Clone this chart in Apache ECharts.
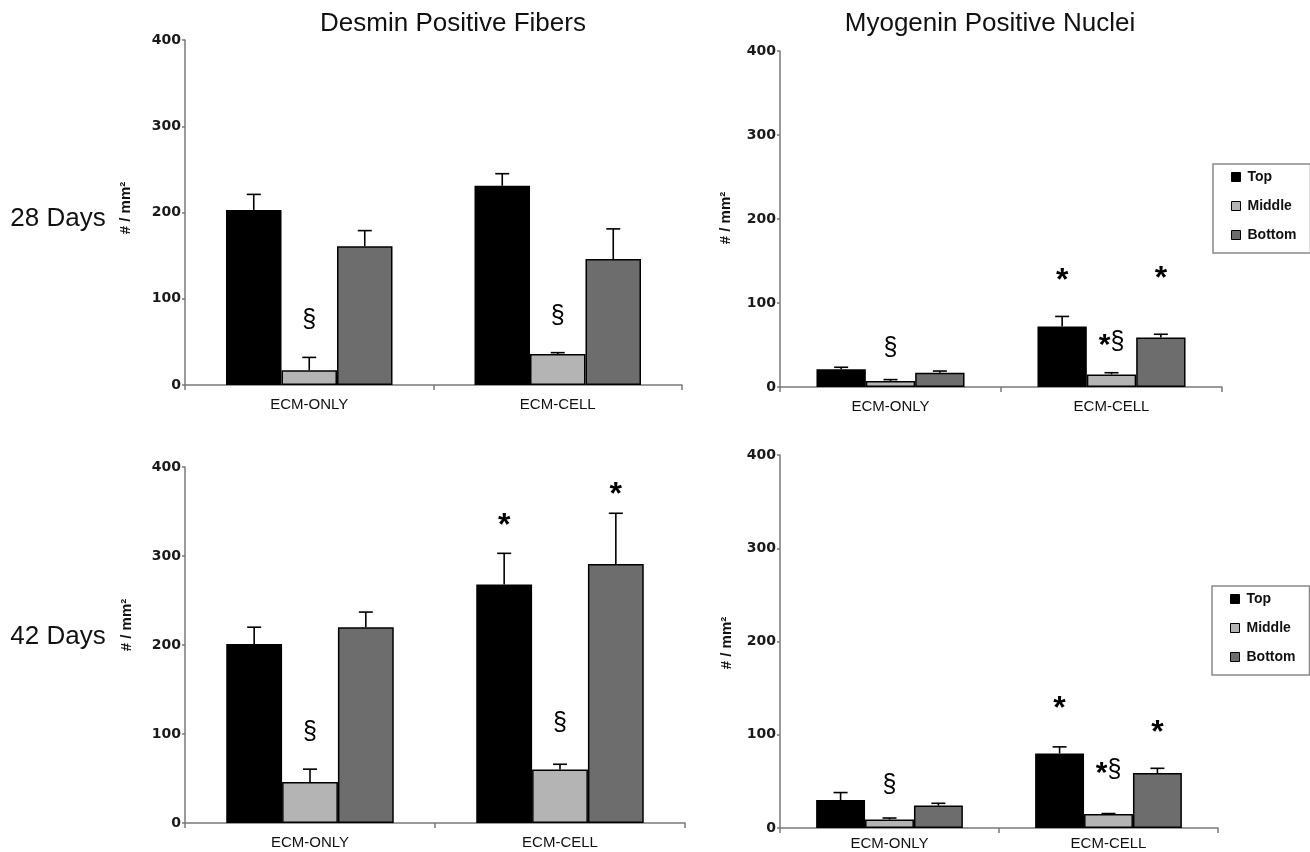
<!DOCTYPE html>
<html><head><meta charset="utf-8">
<script src="https://cdn.jsdelivr.net/npm/echarts@6/dist/echarts.min.js"></script>
<style>html,body{margin:0;padding:0;background:#fff}#chart{width:1310px;height:852px}</style>
</head><body><div id="chart"></div>
<script>
// ---------- data ----------
const categories = ['ECM-ONLY', 'ECM-CELL'];
const groups = ['Top', 'Middle', 'Bottom'];
const yMin = 0, yMax = 400, yStep = 100;

// Desmin positive fibers, 28 days
const desmin28Top = [203, 231];
const desmin28Middle = [17, 36];
const desmin28Bottom = [161, 146];
const desmin28TopSD = [18, 14];
const desmin28MiddleSD = [15, 1.5];
const desmin28BottomSD = [18, 35];

// Myogenin positive nuclei, 28 days
const myogenin28Top = [21, 72];
const myogenin28Middle = [7, 15];
const myogenin28Bottom = [17, 59];
const myogenin28TopSD = [2.5, 12];
const myogenin28MiddleSD = [1.8, 2];
const myogenin28BottomSD = [2, 3.8];

// Desmin positive fibers, 42 days
const desmin42Top = [201, 268];
const desmin42Middle = [46, 60];
const desmin42Bottom = [220, 291];
const desmin42TopSD = [19, 35];
const desmin42MiddleSD = [14.5, 6];
const desmin42BottomSD = [17, 57];

// Myogenin positive nuclei, 42 days
const myogenin42Top = [30, 80];
const myogenin42Middle = [9, 15];
const myogenin42Bottom = [24, 59];
const myogenin42TopSD = [8, 7];
const myogenin42MiddleSD = [1.7, 0.5];
const myogenin42BottomSD = [2.5, 5];

// significance marks: [category index, group index, value level, mark]
const desmin28Marks = [[0, 1, 75, '§'], [1, 1, 80, '§']];
const myogenin28Marks = [[0, 1, 46, '§'], [1, 0, 135, '*'], [1, 1, 54, '*§'], [1, 2, 138, '*']];
const desmin42Marks = [[0, 1, 102, '§'], [1, 1, 112, '§'], [1, 0, 342, '*'], [1, 2, 377, '*']];
const myogenin42Marks = [[0, 1, 46, '§'], [1, 0, 136, '*'], [1, 1, 62, '*§'], [1, 2, 110, '*']];

// ---------- styling / layout ----------
const groupColors = ['#000000', '#b4b4b4', '#6d6d6d'];
const BAR_GAP = 0.33;
const FONT = "'Liberation Sans', Arial, sans-serif";
const axisGray = '#7a7a7a';

const panels = [
  { grid: { left: 185, top: 40, width: 497, height: 345 }, means: [desmin28Top, desmin28Middle, desmin28Bottom], sds: [desmin28TopSD, desmin28MiddleSD, desmin28BottomSD], marks: desmin28Marks, labelMargin: 12 },
  { grid: { left: 780, top: 51, width: 442, height: 336 }, means: [myogenin28Top, myogenin28Middle, myogenin28Bottom], sds: [myogenin28TopSD, myogenin28MiddleSD, myogenin28BottomSD], marks: myogenin28Marks, labelMargin: 12 },
  { grid: { left: 185, top: 467, width: 500, height: 356 }, means: [desmin42Top, desmin42Middle, desmin42Bottom], sds: [desmin42TopSD, desmin42MiddleSD, desmin42BottomSD], marks: desmin42Marks, labelMargin: 12 },
  { grid: { left: 780, top: 455, width: 438, height: 373 }, means: [myogenin42Top, myogenin42Middle, myogenin42Bottom], sds: [myogenin42TopSD, myogenin42MiddleSD, myogenin42BottomSD], marks: myogenin42Marks, labelMargin: 8 }
];

function errorRender(params, api) {
  const c = api.value(0), g = api.value(1), mean = api.value(2), sd = api.value(3);
  const band = api.size([1, 0])[0];
  const bw = band * (1 - BAR_GAP) / 3;
  const x = api.coord([c, 0])[0] + (g - 1) * bw;
  const y0 = api.coord([c, mean])[1];
  const y1 = api.coord([c, mean + sd])[1];
  const st = { stroke: '#000', lineWidth: 1.6 };
  return { type: 'group', children: [
    { type: 'line', shape: { x1: x, y1: y0, x2: x, y2: y1 }, style: st },
    { type: 'line', shape: { x1: x - 7, y1: y1, x2: x + 7, y2: y1 }, style: st }
  ] };
}

function makeMarkRender(marks) {
  return function (params, api) {
    const m = marks[params.dataIndex];
    const band = api.size([1, 0])[0];
    const bw = band * (1 - BAR_GAP) / 3;
    const p = api.coord([m[0], m[2]]);
    const isStar = m[3] === '*';
    const isCombo = m[3].length > 1;
    return {
      type: 'text',
      x: p[0] + (m[1] - 1) * bw,
      y: p[1] + (isStar ? 8 : 0),
      style: {
        text: isCombo ? '{s|*}{p|§}' : m[3], fill: '#000',
        font: (isStar ? 'bold 32px ' : '25px ') + FONT,
        rich: { s: { font: 'bold 30px ' + FONT, fill: '#000', padding: [8, 0, 0, 0] }, p: { font: '25px ' + FONT, fill: '#000' } },
        align: 'center', verticalAlign: 'middle',
        textAlign: 'center', textVerticalAlign: 'middle'
      }
    };
  };
}

const grids = [], xAxes = [], yAxes = [], series = [];
panels.forEach((p, k) => {
  grids.push(Object.assign({ containLabel: false }, p.grid));
  xAxes.push({
    type: 'category', gridIndex: k, data: categories,
    axisLine: { lineStyle: { color: axisGray, width: 1.5 } },
    axisTick: { show: true, length: 5, lineStyle: { color: axisGray, width: 1.5 } },
    axisLabel: { margin: p.labelMargin, fontSize: 15, color: '#111', fontFamily: FONT },
    splitLine: { show: false }
  });
  yAxes.push({
    type: 'value', gridIndex: k, min: yMin, max: yMax, interval: yStep,
    axisLine: { show: true, lineStyle: { color: axisGray, width: 1.5 } },
    axisTick: { show: true, length: 3, lineStyle: { color: axisGray, width: 1.5 } },
    axisLabel: { margin: 4, fontSize: 14, fontWeight: 'bold', color: '#1a1a1a', fontFamily: "'DejaVu Sans', sans-serif" },
    splitLine: { show: false }
  });
  groups.forEach((g, gi) => {
    series.push({
      type: 'bar', name: g, xAxisIndex: k, yAxisIndex: k,
      data: p.means[gi], barGap: '0%', barCategoryGap: (BAR_GAP * 100) + '%',
      itemStyle: { color: groupColors[gi], borderColor: '#000', borderWidth: 1.5 },
      emphasis: { disabled: true }, animation: false
    });
  });
  const errData = [];
  groups.forEach((g, gi) => categories.forEach((c, ci) => errData.push([ci, gi, p.means[gi][ci], p.sds[gi][ci]])));
  series.push({
    type: 'custom', xAxisIndex: k, yAxisIndex: k, renderItem: errorRender,
    data: errData, encode: { x: 0, y: 2 }, z: 5, silent: true, animation: false
  });
  series.push({
    type: 'custom', xAxisIndex: k, yAxisIndex: k, renderItem: makeMarkRender(p.marks),
    data: p.marks.map(m => [m[0], m[2]]), encode: { x: 0, y: 1 }, z: 6, silent: true, animation: false
  });
});

const legendBase = {
  orient: 'vertical', data: groups, icon: 'rect', itemWidth: 9, itemHeight: 9, itemGap: 15,
  borderColor: '#8a8a8a', borderWidth: 1.5, backgroundColor: '#fff',
  padding: [6, 14, 11, 18],
  textStyle: { fontSize: 14, fontWeight: 'bold', color: '#111', fontFamily: FONT, padding: [0, 0, 0, 2] },
  itemStyle: { borderColor: '#000', borderWidth: 1 },
  selectedMode: false
};

function txt(text, x, y, size, weight, rot) {
  return {
    type: 'text', x: x, y: y, rotation: rot || 0,
    style: { text: text, fill: '#111', font: (weight || 'normal') + ' ' + size + 'px ' + FONT,
      align: 'center', verticalAlign: 'middle', textAlign: 'center', textVerticalAlign: 'middle' }
  };
}

const option = {
  backgroundColor: '#fff',
  animation: false,
  grid: grids, xAxis: xAxes, yAxis: yAxes, series: series,
  legend: [
    Object.assign({}, legendBase, { left: 1213, top: 164 }),
    Object.assign({}, legendBase, { left: 1212, top: 586 })
  ],
  graphic: [
    txt('Desmin Positive Fibers', 453, 24, 26),
    txt('Myogenin Positive Nuclei', 990, 24, 26),
    txt('28 Days', 58, 219, 26),
    txt('42 Days', 58, 637, 26),
    txt('# / mm²', 126, 208, 15, 'bold', Math.PI / 2),
    txt('# / mm²', 127, 625, 15, 'bold', Math.PI / 2),
    txt('# / mm²', 726, 218, 15, 'bold', Math.PI / 2),
    txt('# / mm²', 727, 643, 15, 'bold', Math.PI / 2)
  ]
};

const chart = echarts.init(document.getElementById('chart'), null, { renderer: 'canvas' });
chart.setOption(option);
</script></body></html>
